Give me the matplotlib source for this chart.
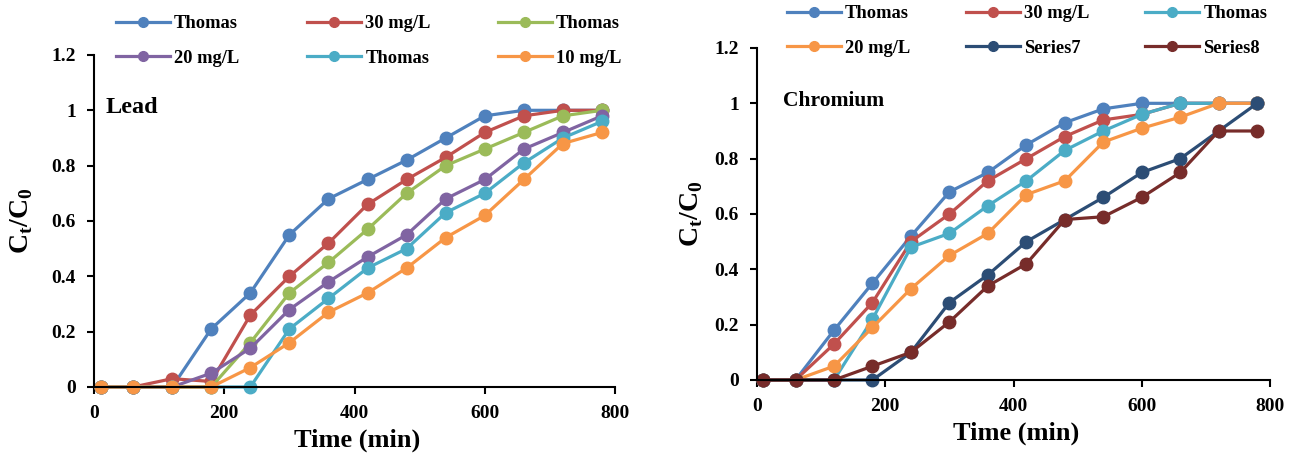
import matplotlib
matplotlib.use('Agg')
import matplotlib.pyplot as plt

plt.rcParams['font.family'] = ['Liberation Serif', 'DejaVu Serif']
plt.rcParams['font.weight'] = 'bold'
plt.rcParams['mathtext.fontset'] = 'custom'
plt.rcParams['mathtext.bf'] = 'Liberation Serif:bold'
plt.rcParams['mathtext.rm'] = 'Liberation Serif:bold'

time = [10, 60, 120, 180, 240, 300, 360, 420, 480, 540, 600, 660, 720, 780]

# Lead
lead_thomas_30 = [0, 0, 0, 0.21, 0.34, 0.55, 0.68, 0.75, 0.82, 0.90, 0.98, 1.0, 1.0, 1.0]
lead_30 = [0, 0, 0.03, 0.02, 0.26, 0.40, 0.52, 0.66, 0.75, 0.83, 0.92, 0.98, 1.0, 1.0]
lead_thomas_20 = [0, 0, 0, 0, 0.16, 0.34, 0.45, 0.57, 0.70, 0.80, 0.86, 0.92, 0.98, 1.0]
lead_20 = [0, 0, 0, 0.05, 0.14, 0.28, 0.38, 0.47, 0.55, 0.68, 0.75, 0.86, 0.92, 0.98]
lead_thomas_10 = [0, 0, 0, 0, 0, 0.21, 0.32, 0.43, 0.50, 0.63, 0.70, 0.81, 0.90, 0.96]
lead_10 = [0, 0, 0, 0, 0.07, 0.16, 0.27, 0.34, 0.43, 0.54, 0.62, 0.75, 0.88, 0.92]

# Chromium
cr_thomas_30 = [0, 0, 0.18, 0.35, 0.52, 0.68, 0.75, 0.85, 0.93, 0.98, 1.0, 1.0, 1.0, 1.0]
cr_30 = [0, 0, 0.13, 0.28, 0.50, 0.60, 0.72, 0.80, 0.88, 0.94, 0.96, 1.0, 1.0, 1.0]
cr_thomas_20 = [0, 0, 0, 0.22, 0.48, 0.53, 0.63, 0.72, 0.83, 0.90, 0.96, 1.0, 1.0, 1.0]
cr_20 = [0, 0, 0.05, 0.19, 0.33, 0.45, 0.53, 0.67, 0.72, 0.86, 0.91, 0.95, 1.0, 1.0]
cr_series7 = [0, 0, 0, 0, 0.10, 0.28, 0.38, 0.50, 0.58, 0.66, 0.75, 0.80, 0.90, 1.0]
cr_series8 = [0, 0, 0, 0.05, 0.10, 0.21, 0.34, 0.42, 0.58, 0.59, 0.66, 0.75, 0.90, 0.90]

lead_series = [
    ('Thomas', lead_thomas_30, '#4F81BD'),
    ('30 mg/L', lead_30, '#C0504D'),
    ('Thomas', lead_thomas_20, '#9BBB59'),
    ('20 mg/L', lead_20, '#8064A2'),
    ('Thomas', lead_thomas_10, '#4BACC6'),
    ('10 mg/L', lead_10, '#F79646'),
]
cr_series = [
    ('Thomas', cr_thomas_30, '#4F81BD'),
    ('30 mg/L', cr_30, '#C0504D'),
    ('Thomas', cr_thomas_20, '#4BACC6'),
    ('20 mg/L', cr_20, '#F79646'),
    ('Series7', cr_series7, '#2C4D75'),
    ('Series8', cr_series8, '#772C2A'),
]

W, H = 1297, 454
fig = plt.figure(figsize=(W / 100, H / 100), dpi=100)
ax1 = fig.add_axes([0.0725, 0.1476, 0.4017, 0.7313])
ax2 = fig.add_axes([0.5837, 0.1630, 0.3955, 0.7313])


def draw(ax, series, name, name_x, name_size, col_x, row_top, ylab_x):
    handles = []
    for label, vals, color in series:
        h, = ax.plot(time, vals, '-o', color=color, lw=2.3, ms=9,
                     markeredgecolor=color, label=label, clip_on=False)
        handles.append(h)
    ax.set_xlim(0, 800)
    ax.set_ylim(0, 1.2)
    ax.set_xticks([0, 200, 400, 600, 800])
    ax.set_yticks([0, 0.2, 0.4, 0.6, 0.8, 1.0, 1.2])
    ax.set_yticklabels(['0', '0.2', '0.4', '0.6', '0.8', '1', '1.2'])
    for s in ['top', 'right']:
        ax.spines[s].set_visible(False)
    for s in ['left', 'bottom']:
        ax.spines[s].set_linewidth(1.5)
    ax.tick_params(direction='out', width=1.5, length=5, labelsize=14)
    ax.tick_params(axis='x', pad=8)
    ax.tick_params(axis='y', pad=8)
    for t in ax.get_xticklabels() + ax.get_yticklabels():
        t.set_fontweight('bold')
    ax.set_xlabel('Time (min)', fontsize=19, fontweight='bold')
    ax.xaxis.set_label_coords(0.505, -0.125)
    ax.set_ylabel('C$_\\mathbf{t}$/C$_\\mathbf{0}$', fontsize=20,
                  fontweight='bold')
    ax.yaxis.set_label_coords(ylab_x, 0.5)
    ax.text(name_x, 1.01, name, fontsize=name_size, fontweight='bold',
            va='center')
    # Excel-style legend: 3 equal columns, 2 rows, filled row-wise
    for c in range(3):
        idx = [c, c + 3]
        leg = fig.legend([handles[i] for i in idx], [series[i][0] for i in idx],
                         loc='upper left',
                         bbox_to_anchor=(col_x[c] / W, 1 - row_top / H),
                         frameon=False, prop={'size': 13.3, 'weight': 'bold'},
                         handlelength=2.9, handletextpad=0.25,
                         labelspacing=0.95, borderpad=0, borderaxespad=0)
        for lh in leg.legend_handles:
            lh.set_markersize(7)


draw(ax1, lead_series, 'Lead', 18, 17.5, [116, 307, 498], 15, -0.113)
draw(ax2, cr_series, 'Chromium', 40, 15.5, [787, 966, 1145], 5, -0.101)

fig.savefig('out.png', dpi=100)
